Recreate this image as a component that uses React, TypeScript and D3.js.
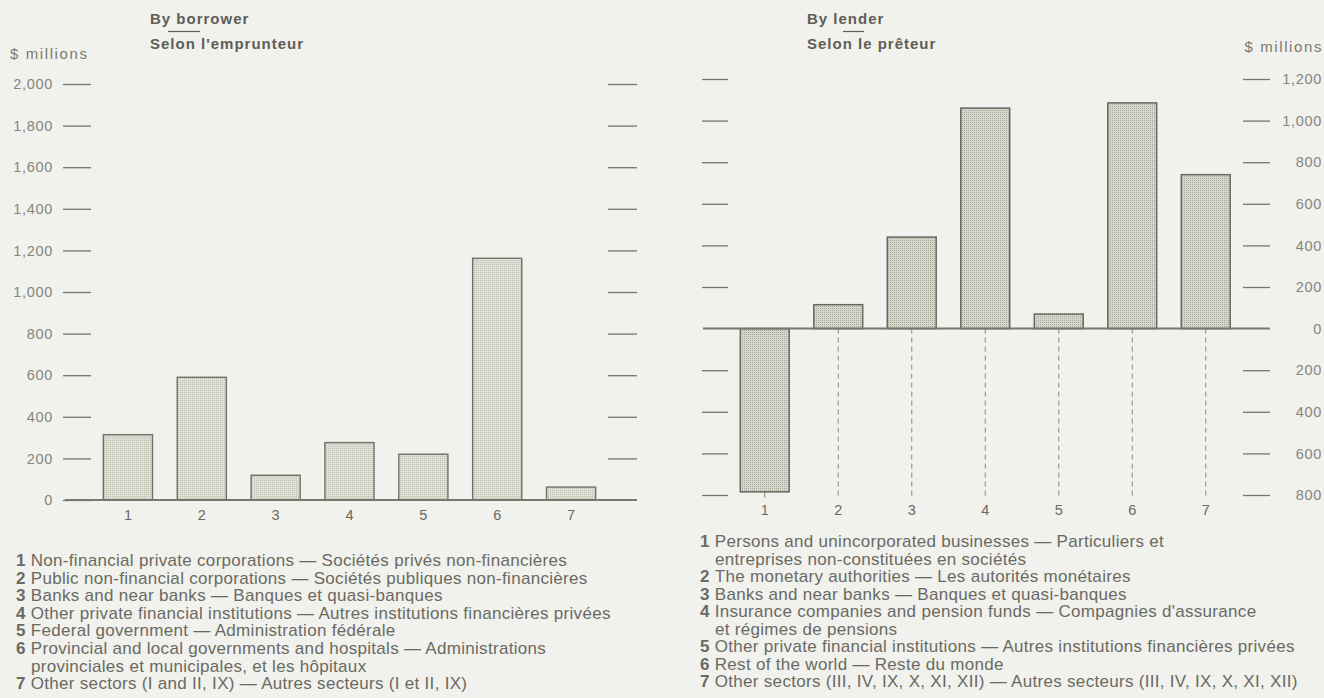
import { useRef, useEffect } from "react";
import * as d3 from "d3";

const categories = ["1", "2", "3", "4", "5", "6", "7"];
const borrowerValues = [314, 590, 119, 276, 220, 1162, 62];
const lenderValues = [-785, 115, 440, 1060, 70, 1085, 740];
const borrowerTicks = [0, 200, 400, 600, 800, 1000, 1200, 1400, 1600, 1800, 2000];
const lenderTicks = [-800, -600, -400, -200, 0, 200, 400, 600, 800, 1000, 1200];

const borrowerLegend = [
  ["1", "Non-financial private corporations — Sociétés privés non-financières"],
  ["2", "Public non-financial corporations — Sociétés publiques non-financières"],
  ["3", "Banks and near banks — Banques et quasi-banques"],
  ["4", "Other private financial institutions — Autres institutions financières privées"],
  ["5", "Federal government — Administration fédérale"],
  ["6", "Provincial and local governments and hospitals — Administrations"],
  ["", "provinciales et municipales, et les hôpitaux"],
  ["7", "Other sectors (I and II, IX) — Autres secteurs (I et II, IX)"],
];
const lenderLegend = [
  ["1", "Persons and unincorporated businesses — Particuliers et"],
  ["", "entreprises non-constituées en sociétés"],
  ["2", "The monetary authorities — Les autorités monétaires"],
  ["3", "Banks and near banks — Banques et quasi-banques"],
  ["4", "Insurance companies and pension funds — Compagnies d'assurance"],
  ["", "et régimes de pensions"],
  ["5", "Other private financial institutions — Autres institutions financières privées"],
  ["6", "Rest of the world — Reste du monde"],
  ["7", "Other sectors (III, IV, IX, X, XI, XII) — Autres secteurs (III, IV, IX, X, XI, XII)"],
];

const W = 1324;
const H = 698;
const font = "'Liberation Sans', Arial, sans-serif";
const textColor = "#6a6a62";
const lineColor = "#77776c";
const fmt = (v: number) => d3.format(",")(Math.abs(v));

function App() {
  const ref = useRef<SVGSVGElement | null>(null);

  useEffect(() => {
    if (!ref.current) return;
    const svg = d3.select(ref.current).html("");

    svg.append("rect").attr("width", W).attr("height", H).attr("fill", "#f1f1ed");

    // stipple patterns for the bars
    const defs = svg.append("defs");
    const pat = (id: string, bg: string, dot: string) => {
      const p = defs
        .append("pattern")
        .attr("id", id)
        .attr("width", 2)
        .attr("height", 2)
        .attr("patternUnits", "userSpaceOnUse");
      p.append("rect").attr("width", 2).attr("height", 2).attr("fill", bg);
      p.append("rect").attr("width", 1).attr("height", 1).attr("fill", dot);
    };
    pat("dotsLight", "#e0e0d6", "#bdbdb2");
    pat("dotsDark", "#d6d6cc", "#a9a99e");

    const g = svg.append("g").style("font-family", font);

    // ---------- left chart: by borrower ----------
    const x1 = d3.scaleBand().domain(categories).range([91, 608]);
    const y1 = d3.scaleLinear().domain([0, 2000]).range([500, 84]);
    const bw1 = x1.bandwidth() * 0.665;

    const axL = g
      .append("g")
      .attr("transform", "translate(91,0)")
      .call(d3.axisLeft(y1).tickValues(borrowerTicks).tickSize(28).tickPadding(10).tickFormat((d: any) => fmt(d)));
    axL.select(".domain").remove();
    axL.selectAll("line").attr("stroke", lineColor).attr("stroke-width", 1.3);
    axL.selectAll("text").attr("fill", "#86867c").style("font-size", "14.5px").style("letter-spacing", "0.7px");

    const axR = g
      .append("g")
      .attr("transform", "translate(608,0)")
      .call(d3.axisRight(y1).tickValues(borrowerTicks.filter((d) => d > 0)).tickSize(29).tickFormat(() => ""));
    axR.select(".domain").remove();
    axR.selectAll("line").attr("stroke", lineColor).attr("stroke-width", 1.3);

    g.append("g")
      .selectAll("rect")
      .data(borrowerValues)
      .enter()
      .append("rect")
      .attr("x", (d, i) => (x1(categories[i]) as number) + (x1.bandwidth() - bw1) / 2)
      .attr("y", (d) => y1(d))
      .attr("width", bw1)
      .attr("height", (d) => y1(0) - y1(d))
      .attr("fill", "url(#dotsLight)")
      .attr("stroke", "#707066")
      .attr("stroke-width", 1.4);

    g.append("line")
      .attr("x1", 65)
      .attr("x2", 637)
      .attr("y1", y1(0))
      .attr("y2", y1(0))
      .attr("stroke", lineColor)
      .attr("stroke-width", 2);

    g.append("g")
      .selectAll("text")
      .data(categories)
      .enter()
      .append("text")
      .attr("x", (d) => (x1(d) as number) + x1.bandwidth() / 2)
      .attr("y", 520)
      .attr("text-anchor", "middle")
      .attr("fill", textColor)
      .style("font-size", "14.5px")
      .text((d) => d);

    // ---------- right chart: by lender ----------
    const x2 = d3.scaleBand().domain(categories).range([728, 1242.5]);
    const y2 = d3.scaleLinear().domain([-800, 1200]).range([495, 79]);
    const bw2 = x2.bandwidth() * 0.665;

    const axL2 = g
      .append("g")
      .attr("transform", "translate(702,0)")
      .call(d3.axisRight(y2).tickValues(lenderTicks.filter((d) => d !== 0)).tickSize(26).tickFormat(() => ""));
    axL2.select(".domain").remove();
    axL2.selectAll("line").attr("stroke", lineColor).attr("stroke-width", 1.3);

    const axR2 = g
      .append("g")
      .attr("transform", "translate(1243,0)")
      .call(d3.axisRight(y2).tickValues(lenderTicks).tickSize(27).tickFormat((d: any) => fmt(d)));
    axR2.select(".domain").remove();
    axR2.selectAll("line").attr("stroke", lineColor).attr("stroke-width", 1.3).attr("opacity", (d: any) => (d === 0 ? 0 : 1));
    axR2
      .selectAll("text")
      .attr("x", 79)
      .attr("text-anchor", "end")
      .attr("fill", "#86867c")
      .style("font-size", "14.5px")
      .style("letter-spacing", "0.7px");

    // dashed guides below the zero line (and the short tick under bar 1)
    g.append("g")
      .selectAll("line")
      .data(lenderValues)
      .enter()
      .append("line")
      .attr("x1", (d, i) => (x2(categories[i]) as number) + x2.bandwidth() / 2)
      .attr("x2", (d, i) => (x2(categories[i]) as number) + x2.bandwidth() / 2)
      .attr("y1", (d) => y2(Math.min(0, d)))
      .attr("y2", y2(-812))
      .attr("stroke", "#8a8a80")
      .attr("stroke-width", 1)
      .attr("stroke-dasharray", (d) => (d < 0 ? null : "5,4"));

    g.append("g")
      .selectAll("rect")
      .data(lenderValues)
      .enter()
      .append("rect")
      .attr("x", (d, i) => (x2(categories[i]) as number) + (x2.bandwidth() - bw2) / 2)
      .attr("y", (d) => y2(Math.max(0, d)))
      .attr("width", bw2)
      .attr("height", (d) => Math.abs(y2(d) - y2(0)))
      .attr("fill", "url(#dotsDark)")
      .attr("stroke", "#67675d")
      .attr("stroke-width", 1.5);

    g.append("line")
      .attr("x1", 703)
      .attr("x2", 1270)
      .attr("y1", y2(0))
      .attr("y2", y2(0))
      .attr("stroke", lineColor)
      .attr("stroke-width", 2);

    g.append("g")
      .selectAll("text")
      .data(categories)
      .enter()
      .append("text")
      .attr("x", (d) => (x2(d) as number) + x2.bandwidth() / 2)
      .attr("y", 515)
      .attr("text-anchor", "middle")
      .attr("fill", textColor)
      .style("font-size", "14.5px")
      .text((d) => d);

    // ---------- titles ----------
    const title = (x: number, a: string, b: string, u0: number, u1: number) => {
      g.append("text").attr("x", x).attr("y", 24).attr("fill", "#5e5e56").style("font-size", "15px").style("font-weight", "bold").style("letter-spacing", "1px").text(a);
      g.append("text").attr("x", x).attr("y", 49).attr("fill", "#5e5e56").style("font-size", "15px").style("font-weight", "bold").style("letter-spacing", "1px").text(b);
      g.append("line").attr("x1", u0).attr("x2", u1).attr("y1", 31.5).attr("y2", 31.5).attr("stroke", "#5e5e56").attr("stroke-width", 1.2);
    };
    title(150, "By borrower", "Selon l'emprunteur", 168, 200);
    title(807, "By lender", "Selon le prêteur", 843, 864);

    g.append("text").attr("x", 10).attr("y", 59).attr("fill", "#7a7a70").style("font-size", "15px").style("letter-spacing", "1.6px").text("$ millions");
    g.append("text").attr("x", 1323).attr("y", 52).attr("text-anchor", "end").attr("fill", "#7a7a70").style("font-size", "15px").style("letter-spacing", "1.6px").text("$ millions");

    // ---------- legends ----------
    const legend = (rows: string[][], x: number, y0: number, step: number) => {
      const t = g
        .append("g")
        .selectAll("text")
        .data(rows)
        .enter()
        .append("text")
        .attr("x", (d) => (d[0] ? x : x + 15))
        .attr("y", (d, i) => y0 + i * step)
        .attr("fill", textColor)
        .style("font-size", "17px")
        .style("letter-spacing", "0.3px");
      t.append("tspan").style("font-weight", "bold").text((d) => (d[0] ? d[0] + " " : ""));
      t.append("tspan").text((d) => d[1]);
    };
    legend(borrowerLegend, 16, 566, 17.6);
    legend(lenderLegend, 700, 547, 17.5);
  }, []);

  return (
    <svg
      ref={ref}
      width={W}
      height={H}
      style={{ position: "absolute", left: 0, top: 0 }}
    ></svg>
  );
}

export default App;
